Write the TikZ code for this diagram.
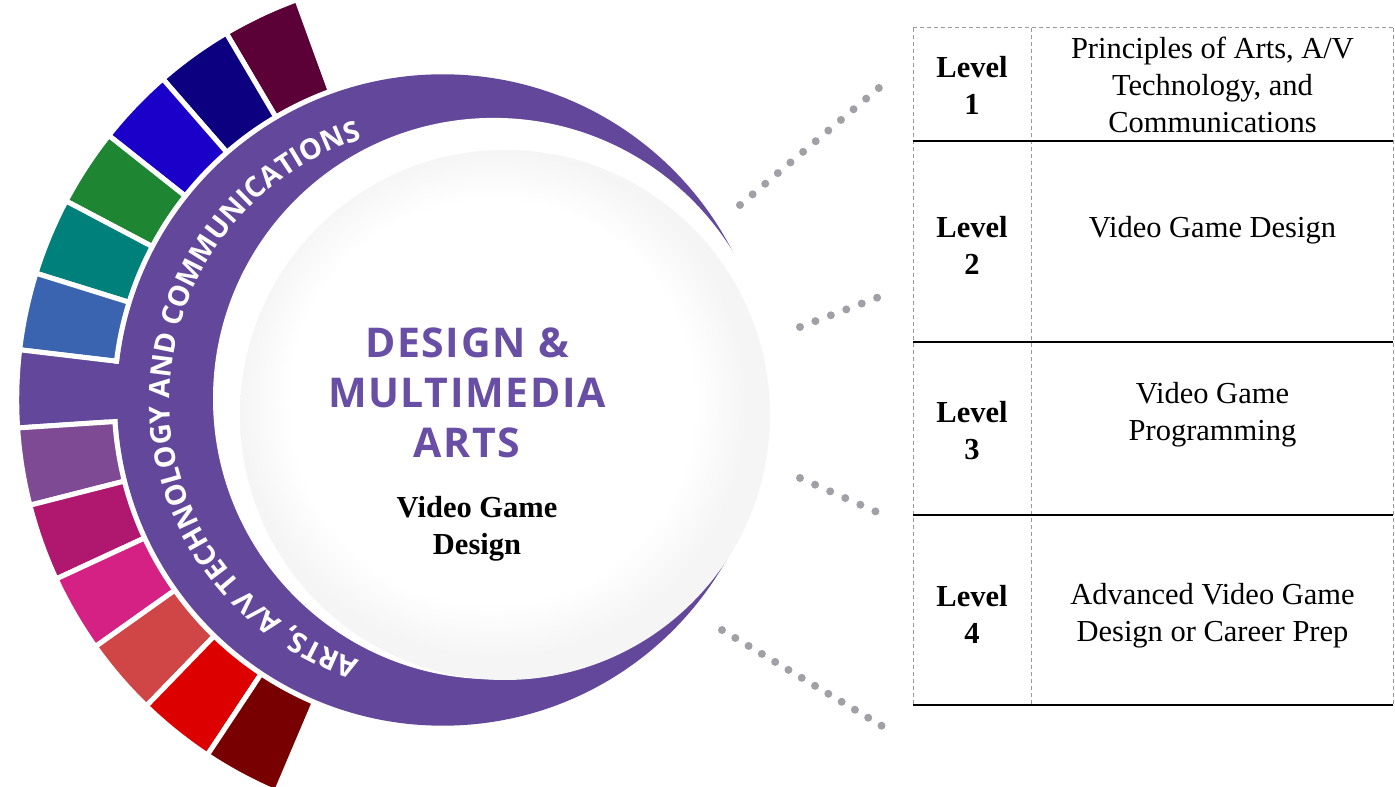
\documentclass[tikz,border=0pt]{standalone}
\usepackage{fontspec}
\setmainfont{Liberation Serif}
\newfontfamily\titlefnt{Open Sans}[LetterSpace=4]
\newfontfamily\ringfnt{Open Sans}
\usepackage{tikz}
\usetikzlibrary{calc,decorations.text}

\definecolor{ringpurple}{RGB}{98,71,155}
\definecolor{titlepurple}{RGB}{104,78,164}
\definecolor{dotgray}{RGB}{160,160,166}
\definecolor{segwine}{RGB}{92,0,56}
\definecolor{segnavy}{RGB}{12,0,128}
\definecolor{segroyal}{RGB}{26,0,200}
\definecolor{segleaf}{RGB}{30,133,50}
\definecolor{segteal}{RGB}{0,128,122}
\definecolor{segsteel}{RGB}{58,99,176}
\definecolor{segmauve}{RGB}{126,74,148}
\definecolor{segplum}{RGB}{176,24,111}
\definecolor{segpink}{RGB}{212,33,131}
\definecolor{segcoral}{RGB}{208,69,69}
\definecolor{segred}{RGB}{221,0,0}
\definecolor{segblood}{RGB}{120,0,0}

\pgfdeclareradialshading{discshade}{\pgfpoint{-2bp}{2bp}}{color(0bp)=(white); color(19bp)=(white); color(24bp)=(black!4); color(50bp)=(black!4)}

\begin{document}
\begin{tikzpicture}[x=1pt,y=1pt,
  lvl/.style={font=\fontsize{30.5}{37}\selectfont\bfseries, align=center},
  cell/.style={font=\fontsize{30.5}{37}\selectfont, align=center},
  dotline/.style={dotgray, line width=8pt, line cap=round, dash pattern=on 0pt off 16.5pt},
  tabline/.style={black, line width=1.5pt},
  tabdash/.style={gray!80, line width=1pt, dash pattern=on 4pt off 3pt}]
\useasboundingbox (0,0) rectangle (1395,787);
\coordinate (cp) at (442.7,387);
\coordinate (wc) at (493.7,388.4);
\coordinate (gc) at (505,372);

% outer band of colour segments
\foreach \col [count=\i from 0] in {segwine,segnavy,segroyal,segleaf,segteal,segsteel,ringpurple,segmauve,segplum,segpink,segcoral,segred,segblood} {
  \pgfmathsetmacro\sa{110+10.538*\i}
  \pgfmathsetmacro\sb{\sa+10.538}
  \filldraw [fill=\col, draw=white, line width=5pt]
    ($(cp)+(\sa:328.5)$) arc[start angle=\sa, end angle=\sb, radius=328.5]
    -- ($(cp)+(\sb:426)$) arc[start angle=\sb, end angle=\sa, radius=426] -- cycle;
}

% purple crescent
\fill [ringpurple] (cp) circle[radius=325.7];
\fill [ringpurple] ($(cp)+(173.7:318)$) arc[start angle=173.7, end angle=183.3, radius=318]
  -- ($(cp)+(183.3:336)$) arc[start angle=183.3, end angle=173.7, radius=336] -- cycle;
\fill [white] (wc) circle[radius=280.7];
\shade [shading=discshade] (gc) circle[radius=265];

\path [decorate, decoration={text along path, text align=center, text color=white,
  text={|\ringfnt\fontsize{28.5}{34}\selectfont\bfseries|ARTS, A/V TECHNOLOGY AND COMMUNICATIONS}}]
  ($(cp)+(254:273)$) arc[start angle=254, end angle=105.5, radius=273];

\path (467,394) node (title) [font=\titlefnt\fontsize{41}{50}\selectfont\bfseries, text=titlepurple, align=center] {DESIGN \&\\MULTIMEDIA\\ARTS};
\path (477,258) node (pathway) [lvl] {Video Game\\Design};

% dotted leaders
\coordinate (d1a) at (740,582);
\coordinate (d1b) at (880,700);
\coordinate (d2a) at (800,460);
\coordinate (d2b) at (879,490);
\coordinate (d3a) at (800,309);
\coordinate (d3b) at (879,274);
\coordinate (d4a) at (722,157);
\coordinate (d4b) at (882,61);
\draw [dotline] (d1a) to (d1b);
\draw [dotline] (d2a) to (d2b);
\draw [dotline] (d3a) to (d3b);
\draw [dotline, dash pattern=on 0pt off 15.5pt] (d4a) to (d4b);

% table
\draw [tabdash] (913,759) -- (1393,759);
\foreach \x in {913,1031,1393} \draw [tabdash] (\x,759) -- (\x,82);
\foreach \y in {646,445,272,82} \draw [tabline] (913,\y) -- (1393,\y);

\path (972,701.5) node (lvla) [lvl] {Level\\1};
\path (1212.5,702) node (cella) [cell] {Principles of Arts, A/V\\Technology, and\\Communications};
\path (972,541.5) node (lvlb) [lvl] {Level\\2};
\path (1212.5,557) node (cellb) [cell] {Video Game Design};
\path (972,356.5) node (lvlc) [lvl] {Level\\3};
\path (1212.5,372) node (cellc) [cell] {Video Game\\Programming};
\path (972,173) node (lvld) [lvl] {Level\\4};
\path (1212.5,171) node (celld) [cell] {Advanced Video Game\\Design or Career Prep};
\end{tikzpicture}
\end{document}
